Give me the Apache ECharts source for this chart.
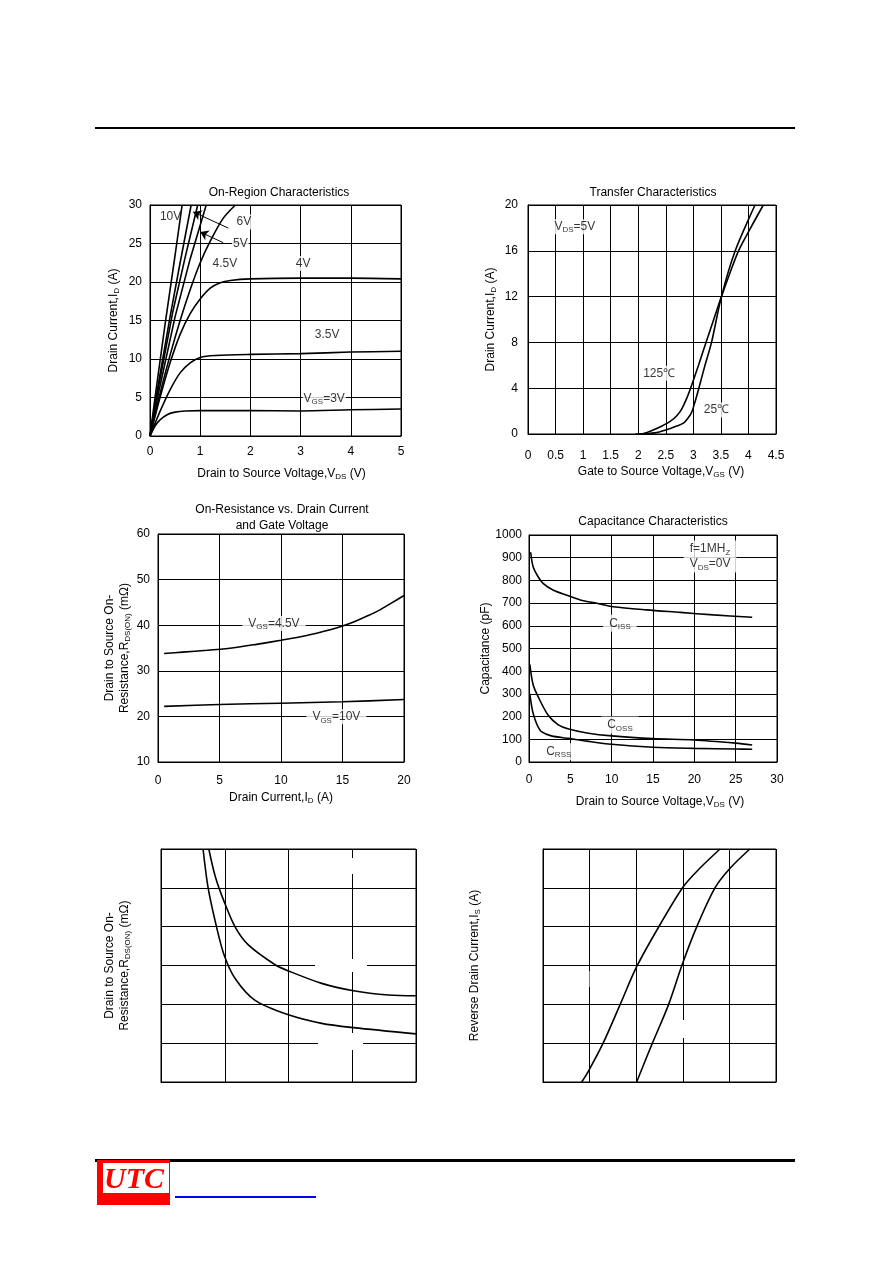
<!DOCTYPE html>
<html>
<head>
<meta charset="utf-8">
<script src="https://cdn.jsdelivr.net/npm/echarts@6/dist/echarts.min.js"></script>
<style>
  html, body { margin: 0; padding: 0; background: #fff; }
  #page { width: 892px; height: 1263px; }
</style>
</head>
<body>
<div id="page"></div>
<script>
// On-Region Characteristics: [VDS (V), ID (A)]
const idVgs10 = [[0, 0], [0.1, 5], [0.3, 14.5], [0.5, 23.5], [0.64, 30]]
const idVgs8 = [[0, 0], [0.12, 5], [0.4, 15.5], [0.6, 22.5], [0.82, 30]]
const idVgs6 = [[0, 0], [0.13, 5], [0.45, 16], [0.7, 23.2], [0.95, 30]]
const idVgs5 = [[0, 0], [0.15, 5], [0.5, 15.5], [0.8, 23], [1.12, 30]]
const idVgs45 = [[0, 0], [0.2, 5.5], [0.4, 10.5], [0.6, 15], [0.8, 19], [1, 22.5], [1.2, 25.3], [1.45, 28.2], [1.7, 30]]
const idVgs4 = [[0, 0], [0.2, 5], [0.4, 9.5], [0.6, 13.2], [0.8, 15.9], [1, 17.8], [1.2, 19.2], [1.4, 19.9], [1.6, 20.2], [2, 20.4], [3, 20.5], [4, 20.5], [5, 20.4]]
const idVgs35 = [[0, 0], [0.2, 3.2], [0.4, 6], [0.6, 8.2], [0.8, 9.5], [1, 10.2], [1.3, 10.45], [2, 10.6], [3, 10.7], [4, 10.9], [5, 11]]
const idVgs3 = [[0, 0], [0.1, 1.3], [0.2, 2.1], [0.35, 2.8], [0.5, 3.1], [0.7, 3.25], [1, 3.3], [2, 3.3], [3, 3.25], [4, 3.4], [5, 3.5]]
const onRegionNotes = [
  [0.41, 28.5, '{n|10V}'], [1.87, 27.8, '{n|6V}'], [1.8, 25, '{n|5V}'],
  [1.49, 22.4, '{n|4.5V}'], [3.05, 22.4, '{n|4V}'], [3.53, 13.1, '{n|3.5V}'],
  [3.47, 4.9, '{n|V}{s|GS}{n|=3V}']
]
const onRegionArrows = [
  [[1.56, 27], [0.86, 29.1]],
  [[1.46, 25.1], [1.0, 26.5]]
]

// Transfer Characteristics: [VGS (V), ID (A)]
const trans25 = [[2, 0], [2.3, 0.1], [2.5, 0.35], [2.7, 0.7], [2.82, 0.95], [2.92, 1.5], [2.97, 1.9], [3.03, 2.8], [3.1, 4], [3.2, 5.8], [3.33, 8], [3.51, 12], [3.76, 16], [4.12, 20]]
const trans125 = [[1.95, 0], [2.1, 0.05], [2.27, 0.35], [2.45, 0.75], [2.58, 1.1], [2.7, 1.6], [2.78, 2.1], [2.87, 3], [2.95, 4], [3.1, 6.1], [3.23, 8], [3.37, 10], [3.51, 12], [3.66, 14], [3.82, 16], [4.04, 18], [4.27, 20]]
const transferNotes = [
  [0.85, 18.1, '{n|V}{s|DS}{n|=5V}'], [2.38, 5.3, '{n|125℃}'], [3.42, 2.1, '{n|25℃}']
]

// On-Resistance vs. Drain Current: [ID (A), RDS(ON) (mΩ)]
const rdsVgs45 = [[0.5, 33.8], [2, 34.1], [4, 34.5], [6, 35], [8, 35.8], [10, 36.7], [12, 37.7], [14, 39], [15, 39.8], [16, 40.8], [17, 42], [18, 43.3], [19, 44.9], [20, 46.5]]
const rdsVgs10 = [[0.5, 22.2], [5, 22.6], [10, 22.9], [15, 23.2], [20, 23.7]]
const rdsNotes = [
  [9.43, 40.4, '{n|V}{s|GS}{n|=4.5V}'], [14.5, 19.9, '{n|V}{s|GS}{n|=10V}']
]

// Capacitance Characteristics: [VDS (V), C (pF)]
const ciss = [[0.2, 924], [0.5, 860], [1.1, 816], [1.7, 787], [2.9, 758], [4.5, 736], [6.2, 714], [8.2, 699], [10.2, 684], [14.2, 670], [18.3, 659], [22.3, 648], [27, 638]]
const coss = [[0.1, 430], [0.5, 340], [1.1, 288], [2.3, 207], [3.5, 165], [4.8, 145], [7, 128], [10, 115], [15, 103], [20, 97], [25, 83], [27, 75]]
const crss = [[0.1, 300], [0.4, 230], [0.75, 185], [1.1, 155], [1.5, 134], [2.7, 115], [4.8, 104], [7, 92], [10, 78], [15, 65], [20, 60], [25, 57], [27, 56]]
const capNotes = [
  [11, 611, '{n|C}{s|ISS}'], [11, 163, '{n|C}{s|OSS}'], [3.6, 45, '{n|C}{s|RSS}'],
  [21.9, 905, '{n|f=1MH}{s|Z}\n{n|V}{s|DS}{n|=0V}']
]

// unlabeled bottom charts, values in grid units
const rdsVgsA = [[0.75, 6], [0.85, 5.3], [0.98, 4.69], [1.16, 4], [1.37, 3.53], [1.79, 3.02], [2, 2.86], [2.52, 2.54], [3.02, 2.35], [3.57, 2.24], [4, 2.22]]
const rdsVgsB = [[0.66, 6], [0.74, 4.99], [0.87, 4], [0.99, 3.27], [1.16, 2.67], [1.47, 2.11], [2, 1.73], [2.52, 1.51], [3.02, 1.4], [4, 1.24]]
const isA = [[0.83, 0], [0.97, 0.27], [1.29, 1], [1.65, 1.98], [2.01, 2.97], [2.51, 4.05], [3.01, 5.03], [3.37, 5.51], [3.8, 6]]
const isB = [[2.01, 0], [2.33, 0.95], [2.69, 1.98], [2.98, 3], [3.3, 4], [3.69, 5], [4.01, 5.5], [4.44, 6]]

const FONT = '"Liberation Sans", Arial, sans-serif'
const RICH = {
  n: { fontFamily: FONT, fontSize: 12, color: '#000', lineHeight: 15, textBorderWidth: 0 },
  s: { fontFamily: FONT, fontSize: 8, color: '#000', lineHeight: 15, verticalAlign: 'bottom', textBorderWidth: 0 }
}

const grids = [
  { left: 150, top: 205, width: 251, height: 231 },
  { left: 528, top: 205, width: 248, height: 229 },
  { left: 158, top: 534, width: 246, height: 228 },
  { left: 529, top: 535, width: 248, height: 227 },
  { left: 161, top: 849, width: 255, height: 233 },
  { left: 543, top: 849, width: 233, height: 233 }
].map((g) => ({ ...g, show: true, borderColor: '#000', borderWidth: 1 }))

function axis(grid, min, max, step, name, gap, margin, isY, shift = 0, labels = true) {
  return {
    gridIndex: grid,
    type: 'value',
    min: min,
    max: max,
    interval: step,
    name: name,
    nameLocation: 'middle',
    nameGap: gap,
    nameRotate: isY ? 90 : 0,
    // padding on one side nudges the centred name sideways
    nameTextStyle: { rich: RICH, padding: [0, 0, 0, shift * 2] },
    axisLine: { show: true, onZero: false, lineStyle: { color: '#000', width: 1 } },
    axisTick: { show: false },
    axisLabel: {
      show: labels,
      margin: margin,
      color: '#000',
      fontFamily: FONT,
      fontSize: 12,
      // no thousands separator (1000, not 1,000)
      formatter: (v) => String(v)
    },
    splitLine: { show: true, lineStyle: { color: '#000', width: 1 } }
  }
}

const xAxes = [
  axis(0, 0, 5, 1, '{n|Drain to Source Voltage,V}{s|DS}{n| (V)}', 30, 10, false, 6),
  axis(1, 0, 4.5, 0.5, '{n|Gate to Source Voltage,V}{s|GS}{n| (V)}', 30, 16, false, 9),
  axis(2, 0, 20, 5, '{n|Drain Current,I}{s|D}{n| (A)}', 28, 13, false),
  axis(3, 0, 30, 5, '{n|Drain to Source Voltage,V}{s|DS}{n| (V)}', 32, 12, false, 7),
  axis(4, 0, 4, 1, '', 0, 0, false, 0, false),
  axis(5, 0, 5, 1, '', 0, 0, false, 0, false)
]
const yAxes = [
  axis(0, 0, 30, 5, '{n|Drain Current,I}{s|D}{n| (A)}', 29, 8, true),
  axis(1, 0, 20, 4, '{n|Drain Current,I}{s|D}{n| (A)}', 30, 10, true),
  axis(2, 10, 60, 10, '{n|Drain to Source On-}\n{n|Resistance,R}{s|DS(ON)}{n| (mΩ)}', 26, 8, true),
  axis(3, 0, 1000, 100, '{n|Capacitance (pF)}', 31, 7, true),
  axis(4, 0, 6, 1, '{n|Drain to Source On-}\n{n|Resistance,R}{s|DS(ON)}{n| (mΩ)}', 29, 0, true, 0, false),
  axis(5, 0, 6, 1, '{n|Reverse Drain Current,I}{s|S}{n| (A)}', 61, 0, true, 0, false)
]

function curve(data, gi, smooth = 0.3) {
  return {
    type: 'line',
    xAxisIndex: gi,
    yAxisIndex: gi,
    data: data,
    symbol: 'none',
    smooth: smooth,
    lineStyle: { color: '#000', width: 1.6 },
    silent: true,
    z: 3
  }
}

function notes(list, gi, pad) {
  return {
    type: 'scatter',
    xAxisIndex: gi,
    yAxisIndex: gi,
    symbolSize: 1,
    itemStyle: { color: 'transparent' },
    z: 2,
    silent: true,
    data: list.map((d) => ({ name: d[2], value: [d[0], d[1]] })),
    label: {
      show: true,
      position: 'inside',
      formatter: (p) => p.name,
      color: '#000',
      textBorderWidth: 0,
      rich: RICH,
      backgroundColor: '#fff',
      padding: pad
    }
  }
}

const series = [
  curve(idVgs10, 0, false), curve(idVgs8, 0, false), curve(idVgs6, 0, false), curve(idVgs5, 0, false),
  curve(idVgs45, 0), curve(idVgs4, 0), curve(idVgs35, 0), curve(idVgs3, 0),
  notes(onRegionNotes, 0, [0, 1]),
  {
    type: 'lines',
    coordinateSystem: 'cartesian2d',
    xAxisIndex: 0,
    yAxisIndex: 0,
    symbol: ['none', 'arrow'],
    symbolSize: 8,
    lineStyle: { color: '#000', width: 1, opacity: 1 },
    z: 4,
    silent: true,
    data: onRegionArrows.map((c) => ({ coords: c }))
  },
  curve(trans25, 1), curve(trans125, 1),
  notes(transferNotes, 1, [0, 2]),
  curve(rdsVgs45, 2), curve(rdsVgs10, 2),
  notes(rdsNotes, 2, [0, 6]),
  curve(ciss, 3), curve(coss, 3), curve(crss, 3),
  notes(capNotes, 3, [1, 6]),
  curve(rdsVgsA, 4), curve(rdsVgsB, 4),
  curve(isA, 5), curve(isB, 5)
]

function txt(text, x, y) {
  return {
    type: 'text', x: x, y: y, silent: true,
    style: {
      text: text, fill: '#000', font: '12px ' + FONT,
      align: 'center', verticalAlign: 'middle', textAlign: 'center', textVerticalAlign: 'middle'
    }
  }
}
function gap(x, y, w, h) {
  return { type: 'rect', z: 1, silent: true, shape: { x: x, y: y, width: w, height: h }, style: { fill: '#fff' } }
}

const graphic = [
  // page header / footer
  { type: 'rect', shape: { x: 95, y: 127, width: 700, height: 2 }, style: { fill: '#000' } },
  { type: 'rect', shape: { x: 95, y: 1159, width: 700, height: 3 }, style: { fill: '#000' } },
  { type: 'rect', shape: { x: 97, y: 1160, width: 73, height: 45 }, style: { fill: '#f00' } },
  { type: 'rect', shape: { x: 103, y: 1163, width: 66, height: 30 }, style: { fill: '#fff' } },
  {
    type: 'text', x: 134, y: 1180,
    style: {
      text: 'UTC', fill: '#f00', font: 'italic bold 30px "Liberation Serif", serif',
      align: 'center', verticalAlign: 'middle', textAlign: 'center', textVerticalAlign: 'middle'
    }
  },
  { type: 'rect', shape: { x: 175, y: 1196, width: 141, height: 2 }, style: { fill: '#00f' } },
  // chart titles
  txt('On-Region Characteristics', 279, 193),
  txt('Transfer Characteristics', 653, 193),
  txt('On-Resistance vs. Drain Current', 282, 510),
  txt('and Gate Voltage', 282, 526),
  txt('Capacitance Characteristics', 653, 522),
  // blank patches in the unlabeled grids
  gap(351.5, 858, 3, 16), gap(351.5, 959, 3, 13), gap(351.5, 1033, 3, 17),
  gap(315, 964, 52, 3), gap(318, 1041, 45, 3),
  gap(586.5, 971, 3, 16), gap(681, 1020, 3, 18)
]

const myChart = echarts.init(document.getElementById('page'))
myChart.setOption({
  animation: false,
  backgroundColor: '#fff',
  textStyle: { fontFamily: FONT },
  grid: grids,
  xAxis: xAxes,
  yAxis: yAxes,
  series: series,
  graphic: graphic
})
</script>
</body>
</html>
